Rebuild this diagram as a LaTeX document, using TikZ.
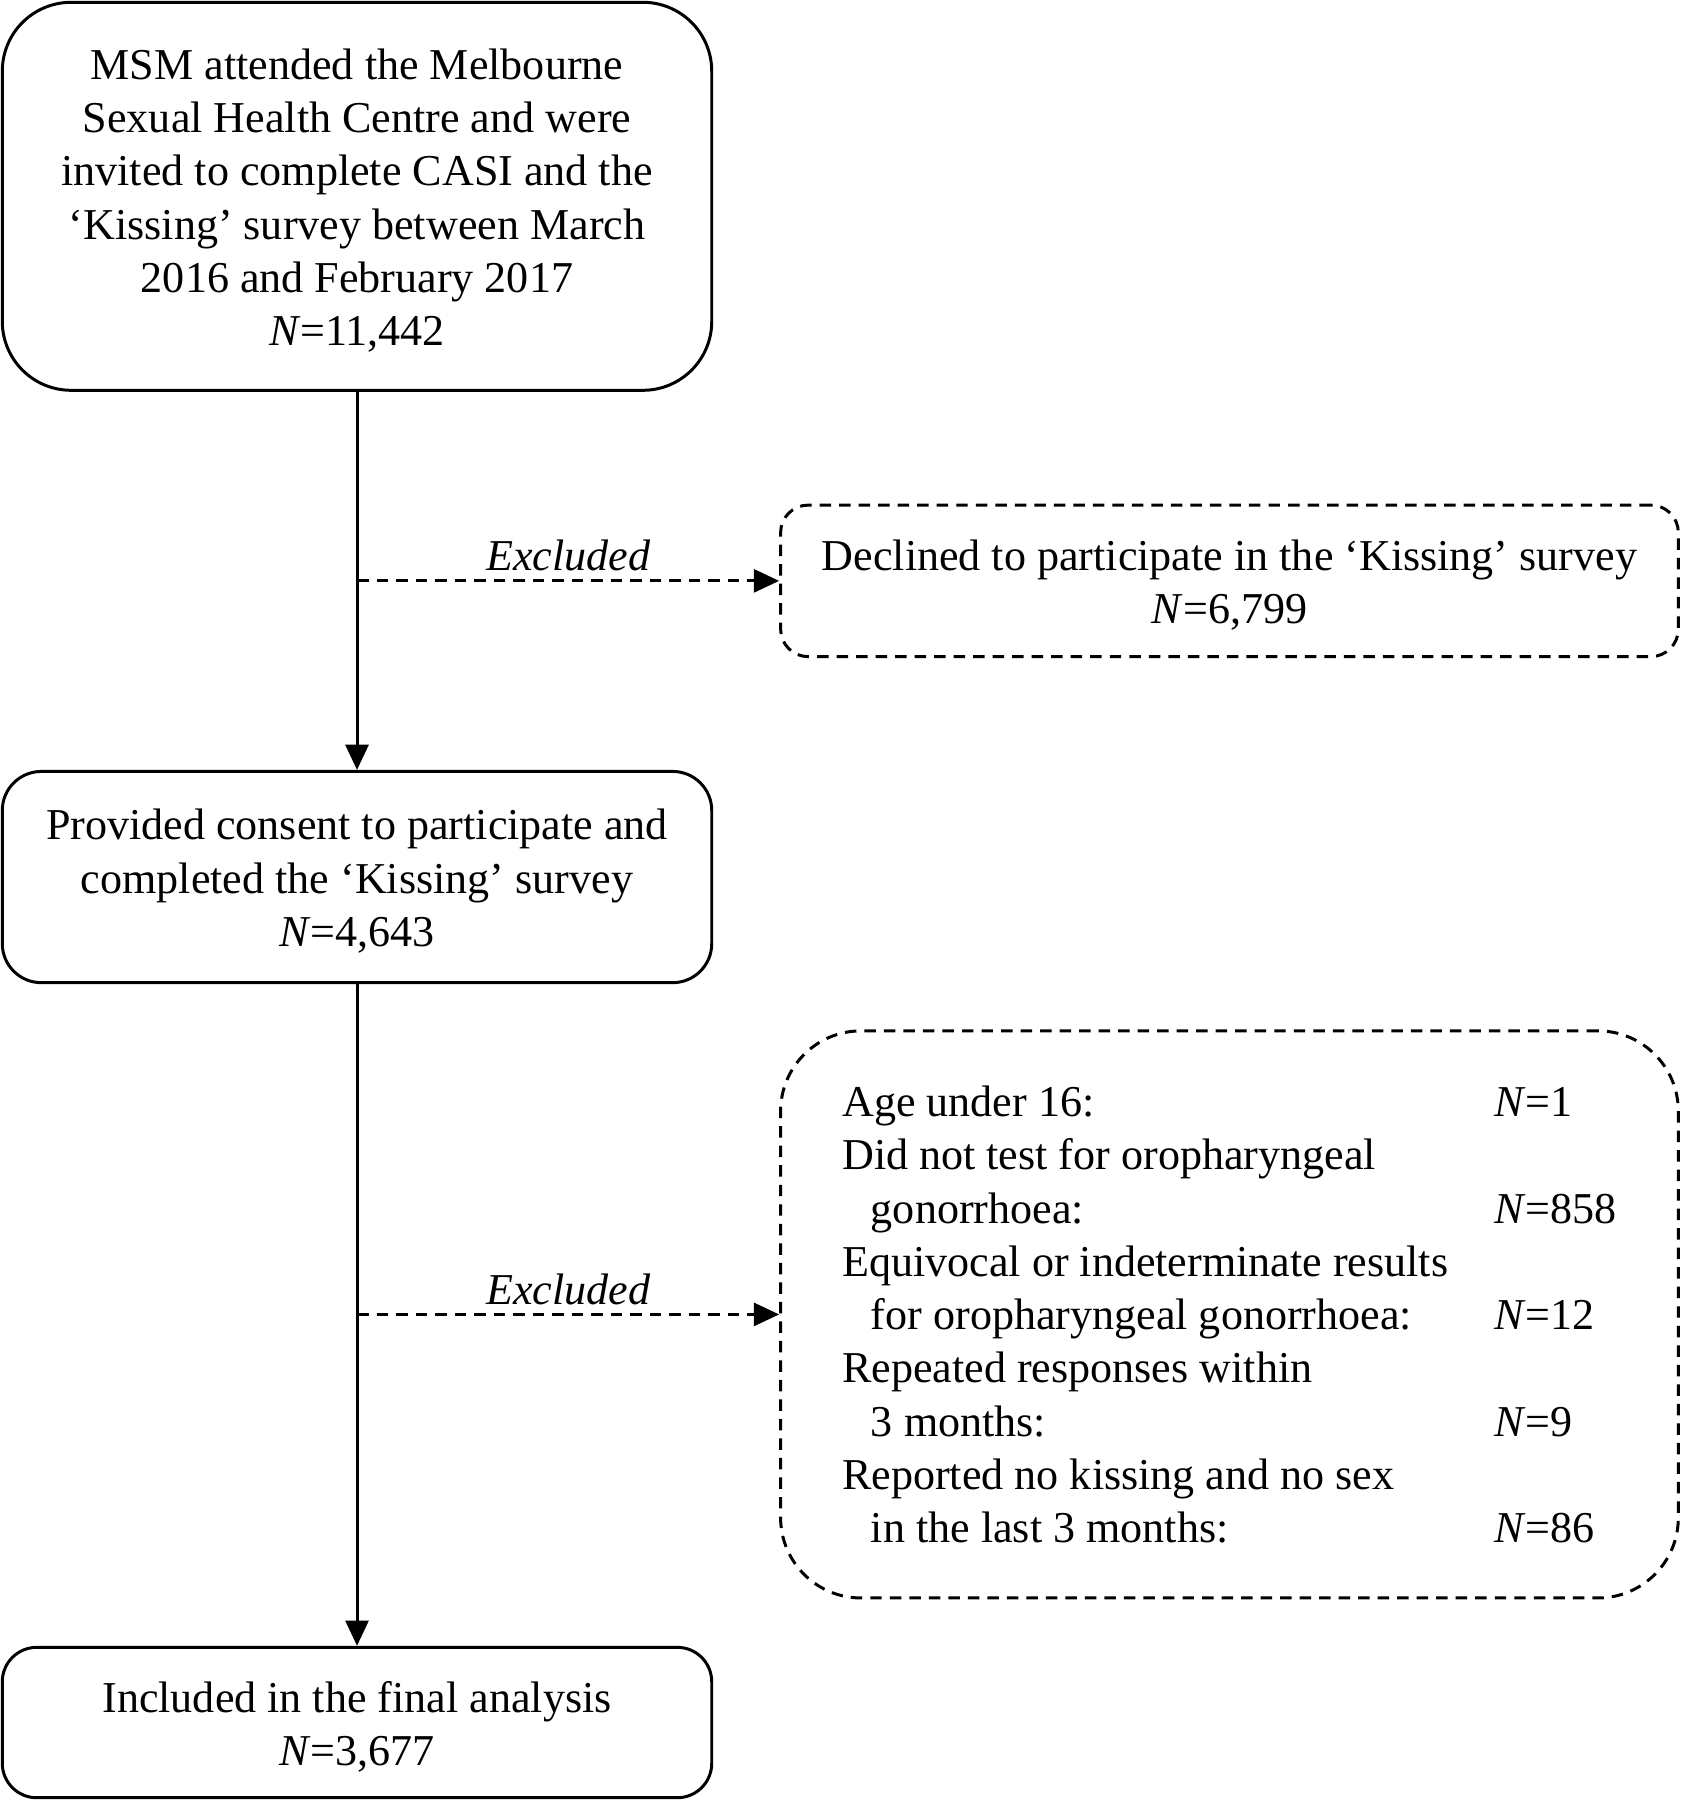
\documentclass[tikz,border=0pt]{standalone}
\usepackage{fontspec}
\setmainfont{Liberation Serif}
\usetikzlibrary{arrows.meta}
\newcommand\tup{\rule{0pt}{17pt}}
\begin{document}
\begin{tikzpicture}[x=0.5pt,y=-0.5pt,
  txt/.style={font=\fontsize{19.2pt}{23.2pt}\selectfont},
  solidbox/.style={txt, draw, line width=1.3pt, align=center, inner sep=0pt, minimum width=309pt},
  dashbox/.style={txt, draw, line width=1.3pt, dash pattern=on 5pt off 3.5pt, inner sep=0pt, minimum width=391pt},
  flow/.style={line width=1.3pt, -{Triangle[length=11pt,width=10pt]}},
  excl/.style={line width=1.3pt, dash pattern=on 5pt off 3.5pt, -{Triangle[length=11pt,width=10pt]}},
  lbl/.style={font=\fontsize{19.2pt}{23.2pt}\selectfont\itshape, above, inner sep=3.5pt}]
\useasboundingbox (0,0) rectangle (1464,1568);

\node[solidbox, minimum height=169pt, rounded corners=30pt] (b1) at (311,171)
  {\tup MSM attended the Melbourne\\ Sexual Health Centre and were\\ invited to complete CASI and the\\ ‘Kissing’ survey between March\\ 2016 and February 2017\\ \textit{N}=11,442};

\node[solidbox, minimum height=92pt, rounded corners=17pt] (b2) at (311,764)
  {\tup Provided consent to participate and\\ completed the ‘Kissing’ survey\\ \textit{N}=4,643};

\node[solidbox, minimum height=65.5pt, rounded corners=15pt] (b3) at (311,1500.5)
  {\tup Included in the final analysis\\ \textit{N}=3,677};

\node[dashbox, align=center, minimum height=66pt, rounded corners=12pt] (ea) at (1071,506)
  {\tup Declined to participate in the ‘Kissing’ survey\\ \textit{N}=6,799};

\node[dashbox, minimum height=247pt, rounded corners=35pt] (eb) at (1071,1145)
  {\raisebox{-2pt}[\height][\depth]{\begin{tabular}{@{}p{284pt}@{}l@{}}
  Age under 16: & \textit{N}=1\\
  Did not test for oropharyngeal & \\
  \hspace*{12.5pt}gonorrhoea: & \textit{N}=858\\
  Equivocal or indeterminate results & \\
  \hspace*{12.5pt}for oropharyngeal gonorrhoea: & \textit{N}=12\\
  Repeated responses within & \\
  \hspace*{12.5pt}3 months: & \textit{N}=9\\
  Reported no kissing and no sex & \\
  \hspace*{12.5pt}in the last 3 months: & \textit{N}=86
  \end{tabular}}};

\coordinate (j1) at (b1.south |- ea.west);
\coordinate (j2) at (b2.south |- eb.west);

\draw[flow] (b1.south) -- (b2.north);
\draw[flow] (b2.south) -- (b3.north);
\draw[excl] (j1) -- node[lbl] (l1) {Excluded} (ea.west);
\draw[excl] (j2) -- node[lbl] (l2) {Excluded} (eb.west);
\end{tikzpicture}
\end{document}
